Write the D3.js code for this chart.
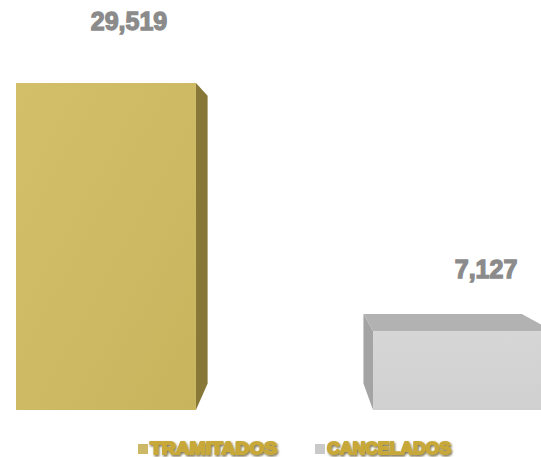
<!DOCTYPE html>
<html>
<head>
<meta charset="utf-8">
<script src="https://cdn.jsdelivr.net/npm/d3@7/dist/d3.min.js"></script>
<style>
  body { margin: 0; background: #fff; }
  svg { display: block; }
</style>
</head>
<body>
<div id="chart"></div>
<script>

var categories = ["TRAMITADOS", "CANCELADOS"];
var values = [29519, 7127];
var labels = ["29,519", "7,127"];

var width = 541, height = 457;

// colours per bar: side, top, legend swatch
var side = ["#877838", "#a4a4a4"];
var top_ = ["#b9a554", "#b2b2b2"];
var legendSwatch = ["#cdb866", "#c9c9c9"];

var svg = d3.select("#chart").append("svg")
    .attr("width", width)
    .attr("height", height);

var defs = svg.append("defs");
var sh = defs.append("filter").attr("id", "legshadow")
    .attr("x", "-10%").attr("y", "-30%").attr("width", "130%").attr("height", "170%");
sh.append("feDropShadow")
    .attr("dx", 1).attr("dy", 1.5).attr("stdDeviation", 1.2)
    .attr("flood-color", "#4a3d10").attr("flood-opacity", 0.75);

var gf = defs.append("linearGradient").attr("id", "gfront0")
    .attr("x1", "0").attr("y1", "0").attr("x2", "1").attr("y2", "1");
gf.append("stop").attr("offset", "0%").attr("stop-color", "#d3be6a");
gf.append("stop").attr("offset", "100%").attr("stop-color", "#c9b45e");

var gf2 = defs.append("linearGradient").attr("id", "gfront1")
    .attr("x1", "0").attr("y1", "0").attr("x2", "0").attr("y2", "1");
gf2.append("stop").attr("offset", "0%").attr("stop-color", "#d6d6d6");
gf2.append("stop").attr("offset", "100%").attr("stop-color", "#d0d0d0");

var x = d3.scaleBand()
    .domain(categories)
    .range([16, 553])
    .paddingInner(0.496)
    .paddingOuter(0);

var y = d3.scaleLinear()
    .domain([0, 29519])
    .range([410, 83]);

// perspective: back face shrinks toward vanishing point
var vx = 293, vy = 189, k = 0.88;
function back(p) { return [vx + k * (p[0] - vx), vy + k * (p[1] - vy)]; }
function poly(pts) { return "M" + pts.map(function(p) { return p.join(","); }).join("L") + "Z"; }

var bars = svg.append("g");

categories.forEach(function(c, i) {
  var x0 = x(c), x1 = x(c) + x.bandwidth();
  var y0 = y(values[i]), y1 = y(0);
  var tl = [x0, y0], tr = [x1, y0], bl = [x0, y1], br = [x1, y1];
  var g = bars.append("g");

  // side face
  if (x1 < vx) {
    g.append("path").attr("d", poly([tr, back(tr), back(br), br])).attr("fill", side[i]);
  } else if (x0 > vx) {
    g.append("path").attr("d", poly([tl, back(tl), back(bl), bl])).attr("fill", side[i]);
  }
  // top face
  if (y0 > vy) {
    g.append("path").attr("d", poly([tl, back(tl), back(tr), tr])).attr("fill", top_[i]);
  }
  // front face
  g.append("rect")
    .attr("x", x0).attr("y", y0)
    .attr("width", x.bandwidth()).attr("height", y1 - y0)
    .attr("fill", "url(#gfront" + i + ")");
});

// value labels
svg.append("g").selectAll("text")
  .data(categories)
  .join("text")
    .attr("x", function(d) { return x(d) + x.bandwidth() / 2 + 23; })
    .attr("y", function(d, i) { return y(values[i]) - 53; })
    .attr("text-anchor", "middle")
    .attr("font-family", "Liberation Sans, Arial, sans-serif")
    .attr("font-weight", "bold")
    .attr("font-size", 25)
    .attr("fill", "#8b8b8b")
    .attr("stroke", "#8b8b8b")
    .attr("stroke-width", 1.3)
    .text(function(d, i) { return labels[i]; });

// legend
var legX = [138, 315];
var leg = svg.append("g");
categories.forEach(function(c, i) {
  leg.append("rect")
    .attr("x", legX[i]).attr("y", 444)
    .attr("width", 10).attr("height", 10)
    .attr("fill", legendSwatch[i]);
  leg.append("text")
    .attr("x", legX[i] + 12).attr("y", 454)
    .attr("font-family", "Liberation Sans, Arial, sans-serif")
    .attr("font-weight", "bold")
    .attr("font-size", 16.5)
    .attr("textLength", i == 0 ? 127 : 124)
    .attr("lengthAdjust", "spacingAndGlyphs")
    .attr("fill", "#c7a838")
    .attr("stroke", "#c7a838")
    .attr("stroke-width", 1.8)
    .attr("stroke-linejoin", "round")
    .attr("filter", "url(#legshadow)")
    .text(c);
});

</script>
</body>
</html>
